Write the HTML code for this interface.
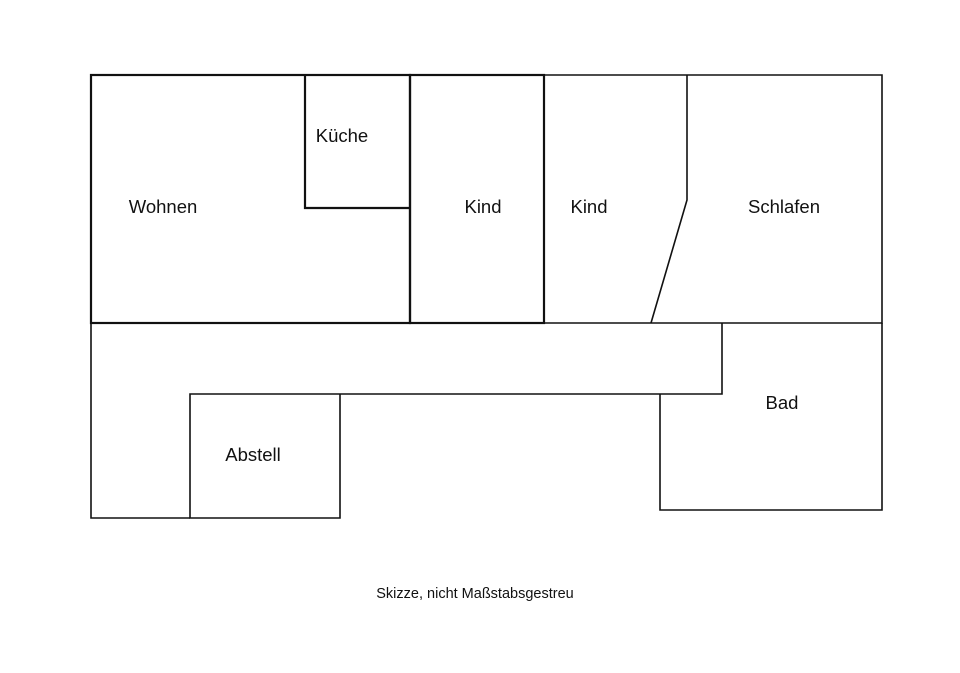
<!DOCTYPE html>
<html><head><meta charset="utf-8"><style>
html,body{margin:0;padding:0;background:#fff;}
svg text{font-family:"Liberation Sans",sans-serif;fill:#111;}
</style></head><body>
<svg width="960" height="668" viewBox="0 0 960 668" xmlns="http://www.w3.org/2000/svg">
<g fill="none" stroke="#111" stroke-width="1.6">
<rect x="91" y="75" width="319" height="248" stroke-width="2.2"/>
<polyline points="305,75 305,208 410,208" stroke-width="2.2"/>
<rect x="410" y="75" width="134" height="248" stroke-width="2.2"/>
<polyline points="544,75 882,75 882,323 544,323"/>
<polyline points="687,75 687,200 651,323"/>
<polyline points="91,323 91,518 190,518"/>
<polyline points="722,323 722,394 190,394 190,518 340,518 340,394"/>
<polyline points="660,394 660,510 882,510 882,323"/>
</g>
<g font-size="18.5" text-anchor="middle">
<text x="163" y="213">Wohnen</text>
<text x="342" y="142">Küche</text>
<text x="483" y="213">Kind</text>
<text x="589" y="213">Kind</text>
<text x="784" y="213">Schlafen</text>
<text x="782" y="409">Bad</text>
<text x="253" y="461">Abstell</text>
</g>
<text x="475" y="598" font-size="14.5" text-anchor="middle">Skizze, nicht Maßstabsgestreu</text>
</svg>
</body></html>
